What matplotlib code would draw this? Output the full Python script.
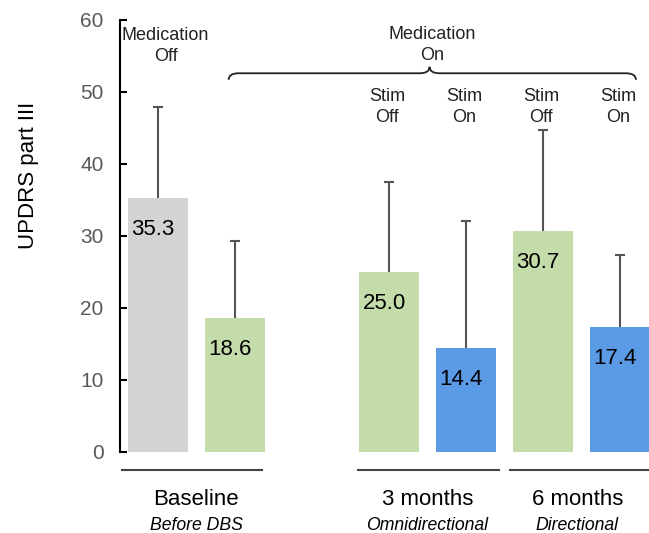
import matplotlib.pyplot as plt
from matplotlib.path import Path
from matplotlib.patches import PathPatch

plt.rcParams['font.family'] = ['Liberation Sans', 'DejaVu Sans']

# UPDRS part III scores per condition (mean and upper SD whisker)
positions = [0, 1, 3, 4, 5, 6]
means = [35.3, 18.6, 25.0, 14.4, 30.7, 17.4]
upper_sd = [12.6, 10.7, 12.5, 17.7, 14.0, 9.9]
bar_colors = ['#d3d3d3', '#c4dcaa', '#c4dcaa', '#5b9be6', '#c4dcaa', '#5b9be6']

stim_labels = ['Stim\nOff', 'Stim\nOn', 'Stim\nOff', 'Stim\nOn']
stim_positions = [3, 4, 5, 6]

groups = ['Baseline', '3 months', '6 months']
group_sub = ['Before DBS', 'Omnidirectional', 'Directional']
group_spans = [(-0.47, 1.35), (2.6, 4.43), (4.57, 6.5)]
group_centers = [0.5, 3.5, 5.45]

fig = plt.figure(figsize=(6.49, 5.33), dpi=100)
ax = fig.add_axes([0.185, 0.152, 0.815, 0.8105])

ax.bar(positions, means, width=0.78, color=bar_colors, zorder=2)

# one-sided whiskers: stem from the bar top up to mean + SD, with a cap
tops = [m + s for m, s in zip(means, upper_sd)]
ax.vlines(positions, means, tops, color='#555555', lw=1.5, zorder=1)
ax.hlines(tops, [p - 0.065 for p in positions], [p + 0.065 for p in positions],
          color='#555555', lw=1.5, zorder=1)

for x, m in zip(positions, means):
    ax.text(x - 0.06, m - 4.4, f'{m:.1f}', ha='center', va='center', fontsize=16, color='black', zorder=3)

ax.set_xlim(-0.49, 6.38)
ax.set_ylim(0, 60)
ax.set_yticks(range(0, 61, 10))
ax.set_xticks([])
ax.tick_params(axis='y', direction='in', length=5, width=1.5, labelsize=15, labelcolor='#595959', pad=12)
for s in ['top', 'right', 'bottom']:
    ax.spines[s].set_visible(False)
ax.spines['left'].set_linewidth(1.5)

ax.text(-0.174, 0.64, 'UPDRS part III', transform=ax.transAxes, rotation=90,
        ha='center', va='center', fontsize=16)

# medication / stimulation labels
ax.text(0.1, 56.4, 'Medication\nOff', ha='center', va='center', fontsize=13, linespacing=1.35, color='#222222')
ax.text(3.56, 56.5, 'Medication\nOn', ha='center', va='center', fontsize=13, linespacing=1.35, color='#222222')
for x, lab in zip(stim_positions, stim_labels):
    ax.text(x - 0.02, 47.9, lab, ha='center', va='center', fontsize=13, linespacing=1.3, color='#222222')

# curly brace over the medication-on conditions
x0, xm, x1 = 0.92, 3.53, 6.21
yb, yl, yp = 51.7, 52.6, 53.5
verts = [(x0, yb), (x0, yl), (x0 + 0.13, yl),
         (xm - 0.13, yl), (xm, yl), (xm, yp),
         (xm, yl), (xm + 0.13, yl),
         (x1 - 0.13, yl), (x1, yl), (x1, yb)]
codes = [Path.MOVETO, Path.CURVE3, Path.CURVE3,
         Path.LINETO, Path.CURVE3, Path.CURVE3,
         Path.CURVE3, Path.CURVE3,
         Path.LINETO, Path.CURVE3, Path.CURVE3]
ax.add_patch(PathPatch(Path(verts, codes), fill=False, lw=1.3, edgecolor='#222222', clip_on=False))

# group underlines and labels below the bars
for (a, b), c, name, sub in zip(group_spans, group_centers, groups, group_sub):
    ax.plot([a, b], [-2.5, -2.5], color='#444444', lw=1.5, clip_on=False)
    ax.text(c, -6.6, name, ha='center', va='center', fontsize=16)
    ax.text(c, -10.2, sub, ha='center', va='center', fontsize=12.7, style='italic')

fig.savefig('out.png', dpi=100)
